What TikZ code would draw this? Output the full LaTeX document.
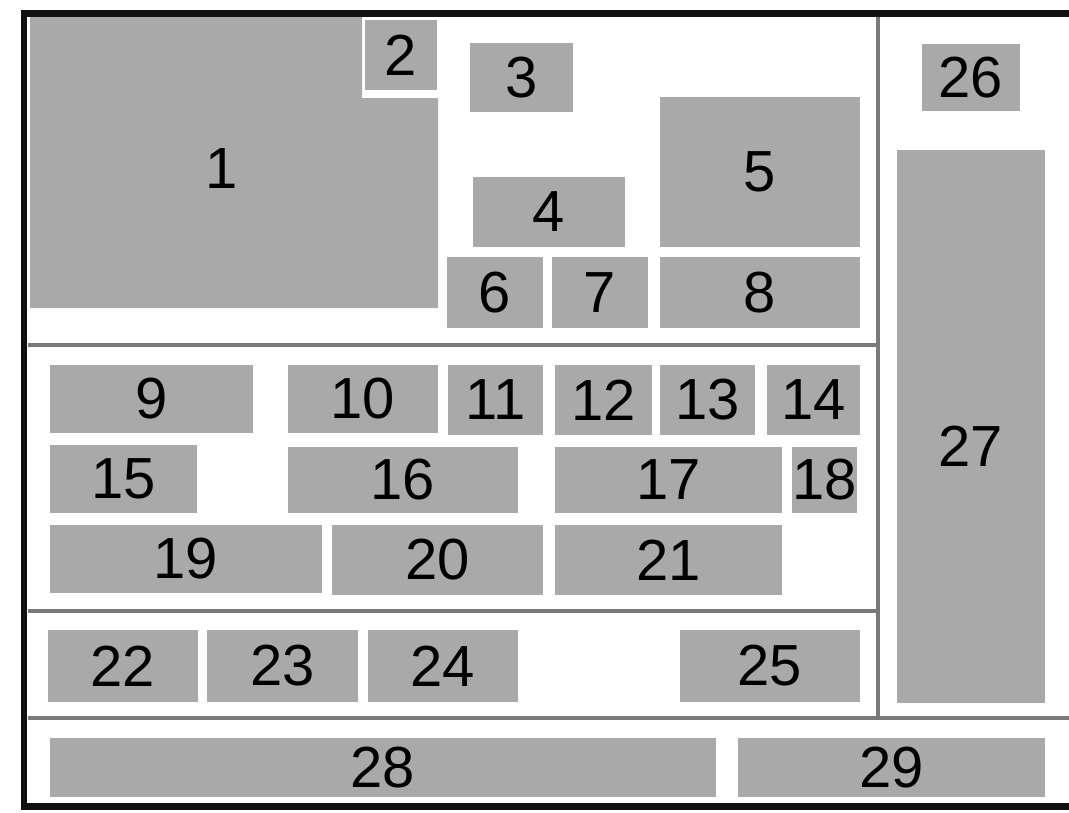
\documentclass[tikz,border=0pt]{standalone}
\usepackage{fontspec}
\setmainfont{Liberation Sans}
\usepackage{xcolor}
\definecolor{PageBlack}{HTML}{111111}
\definecolor{PageRule}{HTML}{7A7A7A}
\definecolor{PageBlock}{HTML}{A9A9A9}

\begin{document}
\begin{tikzpicture}[x=0.02cm,y=-0.02cm,
  frame/.style={draw=PageBlack,line width=0.14cm},
  rule/.style={draw=PageRule,line width=0.09cm},
  blk/.style={fill=PageBlock},
  lbl/.style={inner sep=0pt,font=\fontsize{33}{33}\selectfont}]
  \useasboundingbox (0,0) rectangle (1069,812);
  % block 1 is cut by block 2
  \fill[blk] (30,17) -- (362,17) -- (362,98) -- (438,98)
    -- (438,308) -- (30,308) -- cycle;
  \node[lbl] (b1) at (222,169) {1};
  % the other blocks: x1/y1/x2/y2/number
  \foreach \a/\b/\c/\d/\n in {
      365/20/437/90/2, 470/43/573/112/3, 473/177/625/247/4,
      660/97/860/247/5, 447/257/543/328/6, 552/257/648/328/7,
      660/257/860/328/8, 50/365/253/433/9, 288/365/438/433/10,
      448/365/543/435/11, 555/365/652/435/12, 660/365/755/435/13,
      767/365/860/435/14, 50/445/197/513/15, 288/447/518/513/16,
      555/447/782/513/17, 792/447/857/513/18, 50/525/322/593/19,
      332/525/543/595/20, 555/525/782/595/21, 48/630/198/702/22,
      207/630/358/702/23, 368/630/518/702/24, 680/630/860/702/25,
      922/44/1020/111/26, 50/738/716/797/28, 738/738/1045/797/29}
    \fill[blk] (\a,\b) rectangle (\c,\d) node[lbl,midway] (b\n) {\n};
  \fill[blk] (897,150) rectangle (1045,703);
  \node[lbl] (b27) at (971,446) {27};
  % rules between the parts of the page
  \draw[rule] (28,345) -- (878,345);
  \draw[rule] (28,611) -- (878,611);
  \draw[rule] (878,17) -- (878,718);
  \draw[rule] (28,718) -- (1069,718);
  % page border
  \draw[frame] (1069,13) -- (24,13) -- (24,806) -- (1069,806);
\end{tikzpicture}
\end{document}
